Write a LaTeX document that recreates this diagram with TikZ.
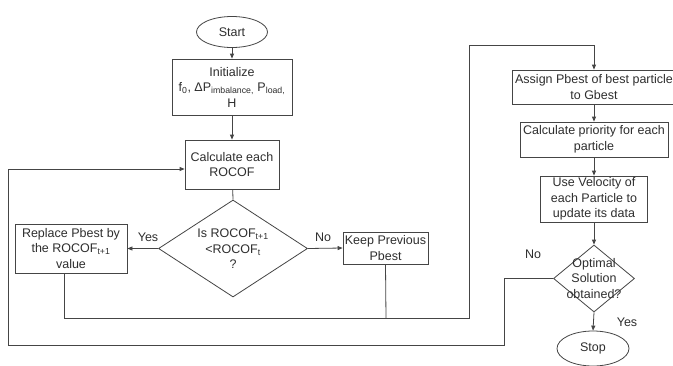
\documentclass[tikz,border=0pt]{standalone}
\usepackage{fontspec}
\setmainfont{Liberation Sans}
\usetikzlibrary{shapes.geometric,arrows.meta}
\definecolor{ln}{HTML}{454545}
\definecolor{tx}{HTML}{2E2E2E}
\begin{document}
\begin{tikzpicture}[x=1pt,y=-1pt,
  font=\fontsize{12.5}{15.5}\selectfont,
  every node/.style={text=tx},
  box/.style={draw=ln, line width=0.8pt, rectangle, align=center, inner sep=1pt},
  oval/.style={draw=ln, line width=0.8pt, ellipse, inner sep=0pt},
  dia/.style={draw=ln, line width=0.8pt, diamond, inner sep=0pt},
  txt/.style={align=center, inner sep=0pt},
  conn/.style={draw=ln, line width=0.8pt},
  arr/.style={conn, -{Triangle[length=5pt,width=4pt]}}]
\clip (0,0) rectangle (673,365);
\fill[white] (0,0) rectangle (673,365);

\node[oval, minimum width=71, minimum height=31] (start) at (232,32) {Start};
\node[box, minimum width=120, minimum height=56] (init) at (232,87) {Initialize\\f\textsubscript{0}, ΔP\textsubscript{imbalance,} P\textsubscript{load,}\\H};
\node[box, minimum width=94, minimum height=49] (calc) at (232,164.5) {Calculate each\\ROCOF};
\node[dia, minimum width=149, minimum height=97] (d1) at (233,248.5) {};
\node[txt] (d1t) at (233,249) {Is ROCOF\textsubscript{t+1}\\<ROCOF\textsubscript{t}\\?};
\node[box, minimum width=112, minimum height=49] (rep) at (71,248.5) {Replace Pbest by\\the ROCOF\textsubscript{t+1}\\value};
\node[box, minimum width=85, minimum height=32] (keep) at (385.5,248) {Keep Previous\\Pbest};

\node[box, minimum width=164, minimum height=34] (assign) at (594,87) {Assign Pbest of best particle\\to Gbest};
\node[box, minimum width=148, minimum height=35] (prio) at (594,139.5) {Calculate priority for each\\particle};
\node[box, minimum width=107, minimum height=46] (vel) at (594,199) {Use Velocity of\\each Particle to\\update its data};
\node[dia, minimum width=81, minimum height=67] (d2) at (594,278.5) {};
\node[txt] (d2t) at (594,278.5) {Optimal\\Solution\\obtained?};
\node[oval, minimum width=72, minimum height=35] (stop) at (593,348.5) {Stop};

\node[txt] (lyes1) at (148,237) {Yes};
\node[txt] (lno1) at (323,237) {No};
\node[txt] (lno2) at (533,254) {No};
\node[txt] (lyes2) at (627,322) {Yes};

\coordinate (c1) at (64,318);
\coordinate (c2) at (386,318);
\coordinate (c3) at (469,318);
\coordinate (c4) at (469,45);
\coordinate (c5) at (594,45);
\coordinate (e1) at (504,278.5);
\coordinate (e2) at (504,345);
\coordinate (e3) at (8,345);
\coordinate (e4) at (8,169);
\coordinate (e5) at (calc.west |- e4);

\draw[arr] (start) -- (init);
\draw[arr] (init) -- (calc);
\draw[conn] (calc) -- (d1.north);
\draw[arr] (d1.west) -- (rep.east);
\draw[arr] (d1.east) -- (keep.west);
\draw[arr] (rep.south -| c1) -- (c1) -- (c3) -- (c4) -- (c5) -- (assign.north);
\draw[conn] (keep.south) -- (c2);
\draw[arr] (assign) -- (prio);
\draw[arr] (prio) -- (vel);
\draw[arr] (vel) -- (d2.north);
\draw[arr] (d2.south) -- (stop.north);
\draw[arr] (d2.west) -- (e1) -- (e2) -- (e3) -- (e4) -- (e5);
\end{tikzpicture}
\end{document}
